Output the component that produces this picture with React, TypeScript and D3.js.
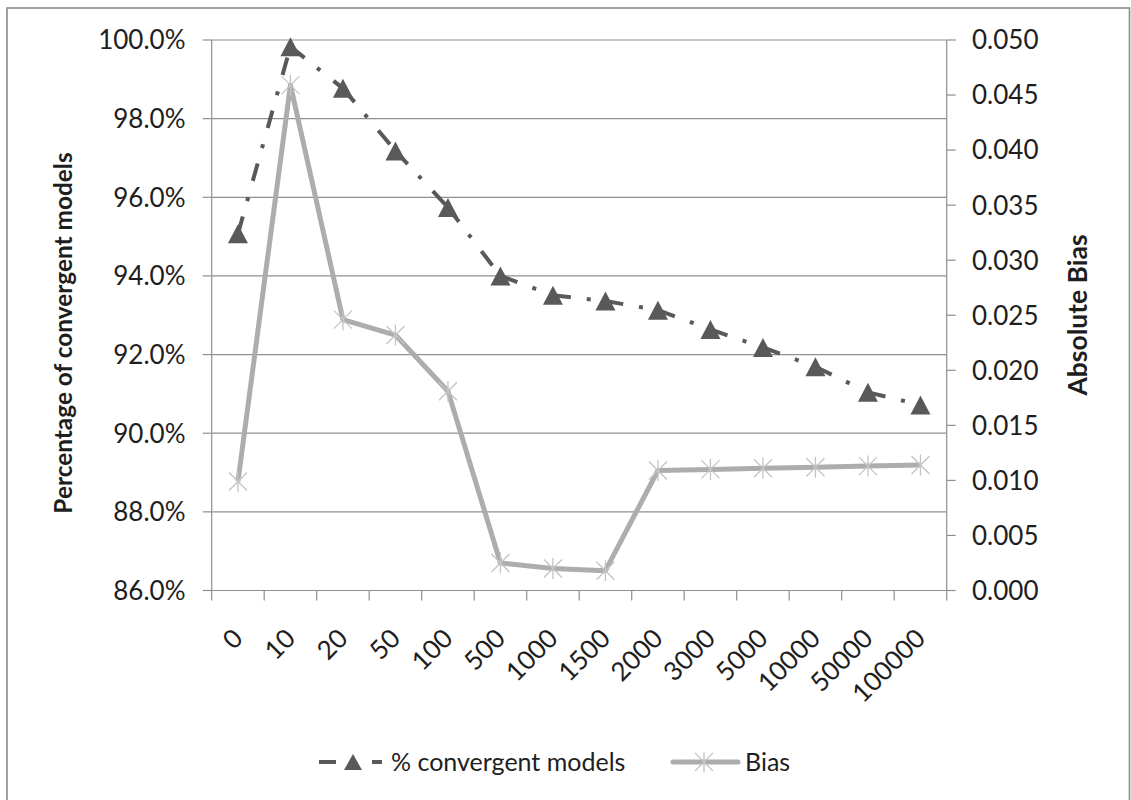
import React from "react";
import * as d3 from "d3";

// Sample-size categories along the x axis
const categories = ["0", "10", "20", "50", "100", "500", "1000", "1500", "2000", "3000", "5000", "10000", "50000", "100000"];

// % of convergent models (left axis, percent)
const convergentPct = [95.07, 99.83, 98.77, 97.18, 95.74, 94.0, 93.51, 93.36, 93.13, 92.64, 92.18, 91.69, 91.04, 90.72];

// Absolute bias (right axis)
const biasValues = [0.0099, 0.0459, 0.0246, 0.0232, 0.0181, 0.0025, 0.002, 0.0018, 0.0109, 0.011, 0.0111, 0.0112, 0.0113, 0.0114];

// Tick values
const leftTicks = [86, 88, 90, 92, 94, 96, 98, 100];
const rightTicks = [0, 0.005, 0.01, 0.015, 0.02, 0.025, 0.03, 0.035, 0.04, 0.045, 0.05];

const W = 1131;
const H = 800;
const FONT = "Lato, 'Open Sans', sans-serif";

const plotLeft = 211.7;
const plotRight = 946.7;
const plotTop = 40;
const plotBottom = 590.5;

const x = d3.scaleBand<string>().domain(categories).range([plotLeft, plotRight]);
const yL = d3.scaleLinear().domain([86, 100]).range([plotBottom, plotTop]);
const yR = d3.scaleLinear().domain([0, 0.05]).range([plotBottom, plotTop]);
const cx = (c: string) => (x(c) as number) + x.bandwidth() / 2;

const PCT_COLOR = "#595959";
const BIAS_COLOR = "#adadad";
const STAR_COLOR = "#c4c4c4";
const GRID = "#8f8f8f";
const TEXT = "#1e1e1e";

const triPath = "M-10,9.5L10,9.5L0,-9.5Z";
const starPath = "M-9,-9L9,9M-9,9L9,-9M0,-10.5L0,10.5";

export default function App() {
  const pctPoints: [number, number][] = categories.map((c, i) => [cx(c), yL(convergentPct[i])]);
  const biasPoints: [number, number][] = categories.map((c, i) => [cx(c), yR(biasValues[i])]);
  const line = d3.line();

  return (
    <svg
      width={W}
      height={H}
      style={{ position: "absolute", left: 0, top: 0, background: "#fff" }}
      fontFamily={FONT}
    >
      <rect x={7} y={8} width={1122.5} height={800} fill="#fff" stroke="#8a8a8a" strokeWidth={1.6} />

      {/* horizontal gridlines */}
      {leftTicks.slice(1).map((t) => (
        <line key={"g" + t} x1={plotLeft} x2={plotRight} y1={yL(t)} y2={yL(t)} stroke={GRID} strokeWidth={1.2} />
      ))}

      {/* left axis */}
      <line x1={plotLeft} x2={plotLeft} y1={plotTop} y2={plotBottom} stroke={GRID} strokeWidth={1.2} />
      {leftTicks.map((t) => (
        <g key={"l" + t}>
          <line x1={plotLeft - 9} x2={plotLeft} y1={yL(t)} y2={yL(t)} stroke={GRID} strokeWidth={1.2} />
          <text x={185.5} y={yL(t)} dy="0.36em" textAnchor="end" fontSize={26} fill={TEXT}>
            {d3.format(".1f")(t) + "%"}
          </text>
        </g>
      ))}

      {/* right axis */}
      <line x1={plotRight} x2={plotRight} y1={plotTop} y2={plotBottom} stroke={GRID} strokeWidth={1.2} />
      {rightTicks.map((t) => (
        <g key={"r" + t}>
          <line x1={plotRight} x2={plotRight + 9} y1={yR(t)} y2={yR(t)} stroke={GRID} strokeWidth={1.2} />
          <text x={972} y={yR(t)} dy="0.36em" textAnchor="start" fontSize={26} fill={TEXT}>
            {d3.format(".3f")(t)}
          </text>
        </g>
      ))}

      {/* bottom axis */}
      <line x1={plotLeft} x2={plotRight} y1={plotBottom} y2={plotBottom} stroke={GRID} strokeWidth={1.2} />
      {categories.map((c) => (
        <line key={"t" + c} x1={x(c) as number} x2={x(c) as number} y1={plotBottom} y2={plotBottom + 10} stroke={GRID} strokeWidth={1.2} />
      ))}
      <line x1={plotRight} x2={plotRight} y1={plotBottom} y2={plotBottom + 10} stroke={GRID} strokeWidth={1.2} />
      {categories.map((c) => (
        <text
          key={"xl" + c}
          transform={`translate(${cx(c) + 6.5},${640}) rotate(-45)`}
          textAnchor="end"
          fontSize={26}
          fill={TEXT}
        >
          {c}
        </text>
      ))}

      {/* axis titles */}
      <text transform="translate(71.5,333) rotate(-90)" textAnchor="middle" fontSize={24.4} fontWeight="bold" fill={TEXT}>
        Percentage of convergent models
      </text>
      <text transform="translate(1087,315) rotate(-90)" textAnchor="middle" fontSize={26.5} fontWeight="bold" fill={TEXT}>
        Absolute Bias
      </text>

      {/* % convergent models: long-dash-dot line, pattern restarting at each point */}
      {pctPoints.slice(1).map((p, i) => (
        <path
          key={"ps" + i}
          d={line([pctPoints[i], p]) as string}
          fill="none"
          stroke={PCT_COLOR}
          strokeWidth={4}
          strokeDasharray="18 16 4 17"
        />
      ))}
      {pctPoints.map((p, i) => (
        <path key={"tri" + i} d={triPath} transform={`translate(${p[0]},${p[1]})`} fill={PCT_COLOR} />
      ))}

      {/* Bias line */}
      <path d={line(biasPoints) as string} fill="none" stroke={BIAS_COLOR} strokeWidth={5} strokeLinejoin="round" />
      {biasPoints.map((p, i) => (
        <path key={"st" + i} d={starPath} transform={`translate(${p[0]},${p[1]})`} fill="none" stroke={STAR_COLOR} strokeWidth={1.3} />
      ))}

      {/* legend */}
      <g>
        <line x1={319} x2={336} y1={762} y2={762} stroke={PCT_COLOR} strokeWidth={4} />
        <line x1={372} x2={382} y1={762} y2={762} stroke={PCT_COLOR} strokeWidth={4} />
        <path d="M-9,8L9,8L0,-8Z" transform="translate(353,762)" fill={PCT_COLOR} />
        <text x={391} y={762} dy="0.36em" fontSize={25} fill={TEXT}>
          % convergent models
        </text>
        <line x1={673} x2={738} y1={762} y2={762} stroke={BIAS_COLOR} strokeWidth={5} strokeLinecap="round" />
        <path d={starPath} transform="translate(704,762)" fill="none" stroke={STAR_COLOR} strokeWidth={1.3} />
        <text x={745} y={762} dy="0.36em" fontSize={25} fill={TEXT}>
          Bias
        </text>
      </g>
    </svg>
  );
}
